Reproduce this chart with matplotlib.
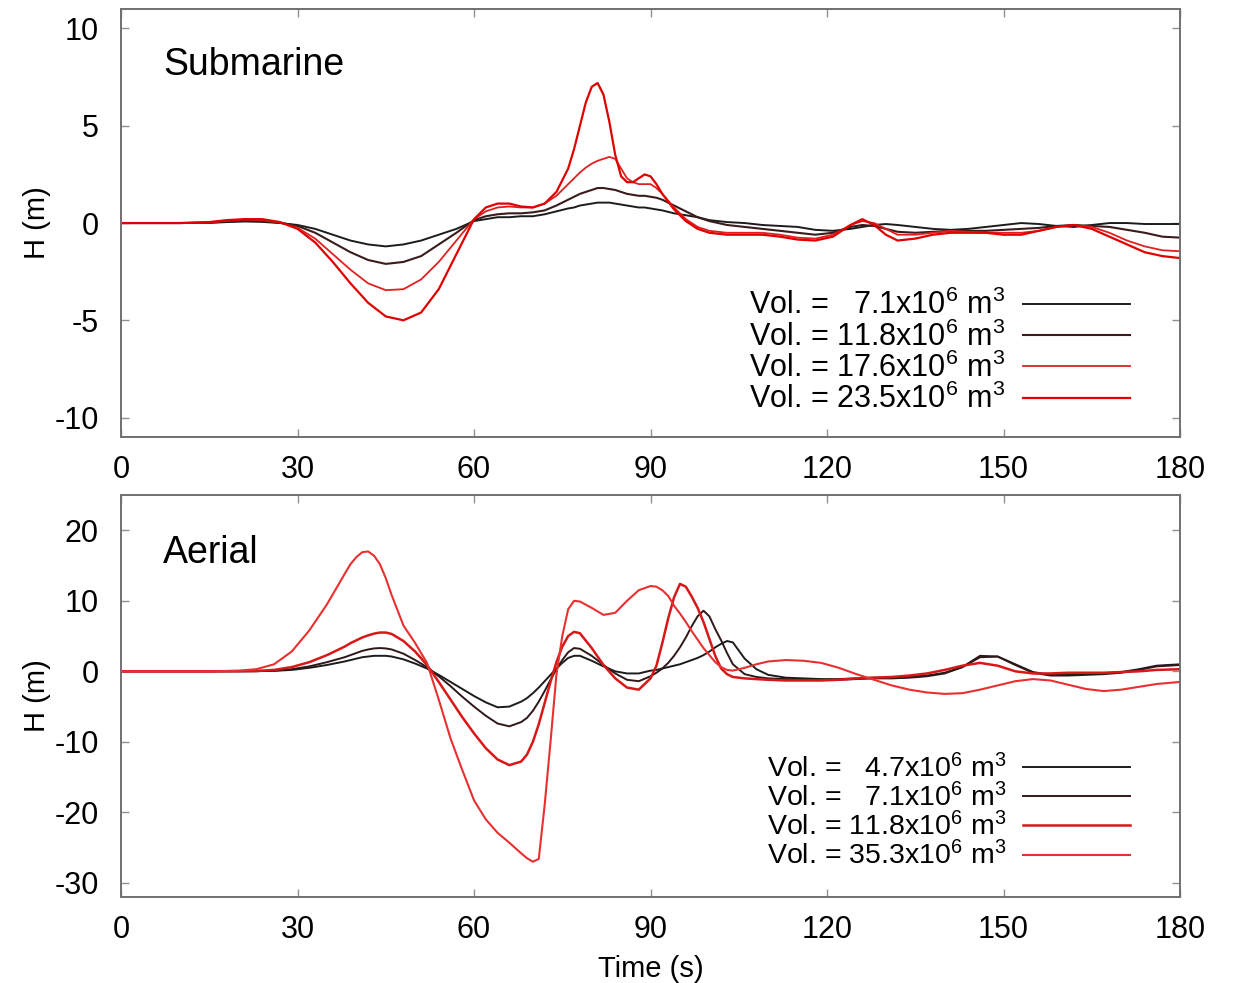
import matplotlib
matplotlib.use('Agg')
from matplotlib import pyplot as plt

matplotlib.rcParams.update({
    'font.family': 'Liberation Sans',
    'mathtext.fontset': 'custom',
    'mathtext.rm': 'Liberation Sans',
    'mathtext.it': 'Liberation Sans:italic',
    'axes.unicode_minus': False,
    'font.size': 20,
})

# --- submarine slide: time (s) and wave height H (m) ---
t_sub = [0, 5, 10, 15, 18, 21, 24, 27, 30, 33, 36, 39, 42, 45, 48, 51, 54, 57, 60,
         62, 64, 66, 68, 70, 72, 74, 76,
         77, 78, 79, 80, 81, 82, 83, 84, 85, 86, 87, 88, 89, 90, 91, 92,
         94, 96, 98, 100,
         103, 106, 109, 112, 115, 118, 121, 124,
         126, 128, 130, 132,
         135, 138, 141, 144, 147, 150, 153, 156, 159, 162, 165, 168, 171, 174, 177, 180]

h_sub_7_1 = [0, 0, 0, 0.01, 0.05, 0.08, 0.06, 0.0, -0.1, -0.3, -0.6, -0.9, -1.1, -1.2, -1.1, -0.9, -0.6, -0.3, 0.1,
             0.2, 0.3, 0.3, 0.35, 0.35, 0.45, 0.6, 0.75,
             0.8, 0.9, 0.95, 1.0, 1.05, 1.05, 1.05, 1.0, 0.95, 0.9, 0.85, 0.8, 0.8, 0.75, 0.7, 0.65,
             0.5, 0.4, 0.3, 0.15,
             0.05, 0.0, -0.1, -0.15, -0.2, -0.35, -0.4, -0.3,
             -0.2, -0.1, -0.05, -0.1,
             -0.2, -0.3, -0.35, -0.3, -0.2, -0.1, 0.0, -0.05, -0.15, -0.2, -0.1, 0.0, 0.0, -0.05, -0.05, -0.05]

h_sub_11_8 = [0, 0, 0, 0.02, 0.08, 0.12, 0.1, 0.02, -0.15, -0.5, -1.0, -1.5, -1.9, -2.1, -2.0, -1.7, -1.1, -0.5, 0.15,
              0.35, 0.45, 0.5, 0.5, 0.55, 0.65, 0.9, 1.2,
              1.35, 1.5, 1.6, 1.7, 1.8, 1.8, 1.75, 1.7, 1.6, 1.5, 1.45, 1.4, 1.4, 1.35, 1.3, 1.2,
              0.9, 0.6, 0.3, 0.1,
              -0.1, -0.2, -0.3, -0.4, -0.5, -0.6, -0.5, -0.2,
              -0.1, -0.15, -0.3, -0.45,
              -0.5, -0.45, -0.4, -0.4, -0.4, -0.35, -0.3, -0.25, -0.15, -0.1, -0.15, -0.2, -0.35, -0.5, -0.7, -0.75]

h_sub_17_6 = [0, 0, 0, 0.03, 0.12, 0.18, 0.15, 0.03, -0.25, -0.8, -1.6, -2.4, -3.1, -3.45, -3.4, -2.9, -2.0, -0.9, 0.2,
              0.6, 0.8, 0.85, 0.8, 0.8, 1.0, 1.4, 2.0,
              2.3, 2.6, 2.85, 3.05, 3.2, 3.3, 3.4, 3.3, 2.8, 2.3, 2.1, 2.0, 2.0, 2.0, 1.8, 1.5,
              0.8, 0.2, -0.2, -0.4,
              -0.5, -0.5, -0.5, -0.6, -0.75, -0.8, -0.6, -0.1,
              0.1, 0.0, -0.3, -0.6,
              -0.6, -0.5, -0.4, -0.45, -0.5, -0.5, -0.5, -0.4, -0.2, -0.1, -0.2, -0.5, -0.9, -1.2, -1.4, -1.45]

h_sub_23_5 = [0, 0, 0, 0.05, 0.15, 0.2, 0.2, 0.05, -0.3, -1.0, -2.0, -3.1, -4.1, -4.8, -5.0, -4.6, -3.4, -1.6, 0.2,
              0.8, 1.0, 1.0, 0.85, 0.8, 1.0, 1.6, 2.8,
              3.8, 5.0, 6.2, 7.0, 7.2, 6.6, 5.2, 3.5, 2.4, 2.1, 2.1, 2.3, 2.5, 2.4, 2.0, 1.5,
              0.7, 0.1, -0.3, -0.5,
              -0.6, -0.6, -0.6, -0.7, -0.85, -0.9, -0.7, -0.1,
              0.2, -0.1, -0.6, -0.9,
              -0.8, -0.6, -0.5, -0.5, -0.5, -0.6, -0.6, -0.4, -0.2, -0.1, -0.3, -0.7, -1.1, -1.5, -1.7, -1.8]

sub_labels = ['Vol. =   7.1x10$^6$ m$^3$', 'Vol. = 11.8x10$^6$ m$^3$',
              'Vol. = 17.6x10$^6$ m$^3$', 'Vol. = 23.5x10$^6$ m$^3$']

# --- aerial slide ---
t_aer = [0, 5, 10, 15, 20,
         23, 26, 29, 32, 35, 38, 39,
         40, 41, 42, 43, 44, 45, 46, 48, 50, 52, 54, 56, 58, 60, 62, 64, 66, 68,
         69, 70, 71, 72, 73, 74, 75, 76, 77, 78,
         80, 82, 84, 86, 88, 90,
         91, 92, 93, 94, 95, 96, 97, 98, 99, 100, 101, 102, 103, 104,
         106, 108, 110,
         113, 116, 119, 122, 125, 128, 131, 134, 137, 140, 143,
         146, 149, 152, 155, 158, 161, 164, 167, 170, 173, 176, 180]

h_aer_4_7 = [0, 0, 0, 0, 0.01,
             0.02, 0.07, 0.2, 0.5, 0.9, 1.4, 1.6,
             1.8, 2.0, 2.1, 2.2, 2.2, 2.2, 2.1, 1.7, 1.1, 0.4, -0.5, -1.5, -2.5, -3.5, -4.4, -5.1, -5.0, -4.3,
             -3.8, -3.1, -2.3, -1.4, -0.5, 0.4, 1.2, 1.9, 2.2, 2.2,
             1.5, 0.7, 0.0, -0.3, -0.3, 0.1,
             0.2, 0.4, 0.6, 0.8, 1.0, 1.3, 1.6, 1.9, 2.3, 2.8, 3.4, 3.9, 4.3, 4.1,
             1.8, 0.3, -0.5,
             -0.9, -1.0, -1.1, -1.1, -1.0, -0.9, -0.9, -0.8, -0.6, -0.2, 0.6,
             2.0, 2.1, 1.0, -0.1, -0.5, -0.5, -0.4, -0.3, -0.1, 0.3, 0.8, 1.0]

h_aer_7_1 = [0, 0, 0, 0, 0.01,
             0.03, 0.1, 0.3, 0.7, 1.3, 2.0, 2.3,
             2.6, 2.9, 3.1, 3.25, 3.3, 3.25, 3.1, 2.5, 1.6, 0.6, -0.7, -2.1, -3.6, -5.0, -6.3, -7.4, -7.8, -7.2,
             -6.6, -5.6, -4.3, -2.8, -1.2, 0.3, 1.6, 2.7, 3.3, 3.2,
             2.2, 0.9, -0.3, -1.2, -1.4, -0.7,
             -0.2, 0.4, 1.2, 2.2, 3.4, 4.8, 6.4, 7.8, 8.6, 7.8, 6.0, 4.4, 2.6, 1.0,
             -0.4, -0.8, -1.0,
             -1.1, -1.2, -1.2, -1.2, -1.1, -1.0, -1.0, -0.9, -0.7, -0.3, 0.6,
             2.2, 2.1, 0.9, -0.2, -0.6, -0.6, -0.5, -0.4, -0.2, 0.2, 0.7, 0.9]

h_aer_11_8 = [0, 0, 0, 0, 0.02,
              0.05, 0.2, 0.6, 1.3, 2.3, 3.5, 4.0,
              4.4, 4.8, 5.1, 5.35, 5.5, 5.5, 5.3, 4.3, 2.8, 0.9, -1.5, -4.0, -6.5, -8.8, -10.9, -12.5, -13.3, -12.8,
              -11.8, -10.0, -7.5, -4.5, -1.5, 1.3, 3.5, 5.0, 5.6, 5.4,
              3.3, 0.9, -1.0, -2.3, -2.6, -1.0,
              0.8, 4.0, 7.5, 10.5, 12.4, 12.0, 10.6, 9.0, 7.0, 4.6, 2.2, 0.4, -0.4, -0.8,
              -1.0, -1.1, -1.2,
              -1.3, -1.3, -1.3, -1.2, -1.0, -0.9, -0.8, -0.6, -0.3, 0.2, 0.8,
              1.2, 0.8, 0.0, -0.3, -0.3, -0.2, -0.2, -0.2, -0.1, 0.0, 0.2, 0.3]

h_aer_35_3 = [0, 0, 0, 0, 0.1,
              0.3, 1.0, 2.8, 5.8, 9.5, 13.8, 15.2,
              16.2, 16.9, 17.0, 16.4, 15.2, 13.2, 10.8, 6.5, 4.0, 1.2, -4.0, -9.5, -14.0, -18.3, -21.0, -22.9, -24.3, -25.8,
              -26.5, -27.0, -26.6, -19.0, -10.0, -0.5, 5.0, 8.8, 10.0, 9.9,
              9.0, 8.0, 8.3, 10.0, 11.5, 12.1,
              12.0, 11.5, 10.7, 9.3, 8.2, 7.0, 5.7, 4.5, 3.3, 2.3, 1.3, 0.6, 0.2, 0.1,
              0.5, 1.0, 1.4,
              1.6, 1.5, 1.2, 0.5, -0.4, -1.2, -2.0, -2.6, -3.0, -3.2, -3.1,
              -2.6, -2.0, -1.4, -1.1, -1.3, -1.9, -2.5, -2.8, -2.6, -2.2, -1.8, -1.5]

aer_labels = ['Vol. =   4.7x10$^6$ m$^3$', 'Vol. =   7.1x10$^6$ m$^3$',
              'Vol. = 11.8x10$^6$ m$^3$', 'Vol. = 35.3x10$^6$ m$^3$']


def style_axes(ax, ylim, yticks):
    """Gnuplot-like frame: grey box, inward ticks mirrored on all sides."""
    ax.set_xlim(0, 180)
    ax.set_ylim(*ylim)
    ax.set_xticks([0, 30, 60, 90, 120, 150, 180])
    ax.set_yticks(yticks)
    for sp in ax.spines.values():
        sp.set_color('#707070')
        sp.set_linewidth(1.4)
    ax.tick_params(axis='both', direction='in', length=6, width=1.0, color='#909090',
                   top=True, right=True, labelsize=22)
    ax.tick_params(axis='y', pad=16)
    ax.tick_params(axis='x', pad=13)
    ax.set_ylabel('H (m)', fontsize=21)
    ax.yaxis.set_label_coords(-0.066, 0.5)


fig = plt.figure(figsize=(12.39, 9.83), dpi=100)
ax1 = fig.add_axes([0.0977, 0.5554, 0.8547, 0.4354])
ax2 = fig.add_axes([0.0977, 0.0875, 0.8547, 0.4089])

sub_series = [h_sub_7_1, h_sub_11_8, h_sub_17_6, h_sub_23_5]
sub_colors = ['#1c1c1c', '#3a1c1c', '#e02020', '#e00000']
sub_widths = [1.4, 1.5, 1.3, 1.6]
for h, c, w, lab in zip(sub_series, sub_colors, sub_widths, sub_labels):
    ax1.plot(t_sub, h, color=c, lw=w, label=lab)

aer_series = [h_aer_4_7, h_aer_7_1, h_aer_11_8, h_aer_35_3]
aer_colors = ['#1c1c1c', '#301818', '#d81818', '#e83030']
aer_widths = [1.4, 1.4, 1.8, 1.5]
for h, c, w, lab in zip(aer_series, aer_colors, aer_widths, aer_labels):
    ax2.plot(t_aer, h, color=c, lw=w, label=lab)

style_axes(ax1, (-11, 11), [-10, -5, 0, 5, 10])
style_axes(ax2, (-32, 25), [-30, -20, -10, 0, 10, 20])
ax2.set_xlabel('Time (s)', fontsize=21, labelpad=7)

ax1.text(0.04, 0.846, 'Submarine', transform=ax1.transAxes, fontsize=27, va='baseline')
ax2.text(0.04, 0.831, 'Aerial', transform=ax2.transAxes, fontsize=27, va='baseline')

for ax, yc, fs in [(ax1, 0.197, 22), (ax2, 0.211, 20.5)]:
    ax.legend(loc='center right', bbox_to_anchor=(0.953, yc), frameon=False,
              markerfirst=False, handlelength=3.5 * 22 / fs, handletextpad=0.6,
              borderpad=0, borderaxespad=0, labelspacing=0.0, fontsize=fs)

fig.savefig('out.png', dpi=100)
